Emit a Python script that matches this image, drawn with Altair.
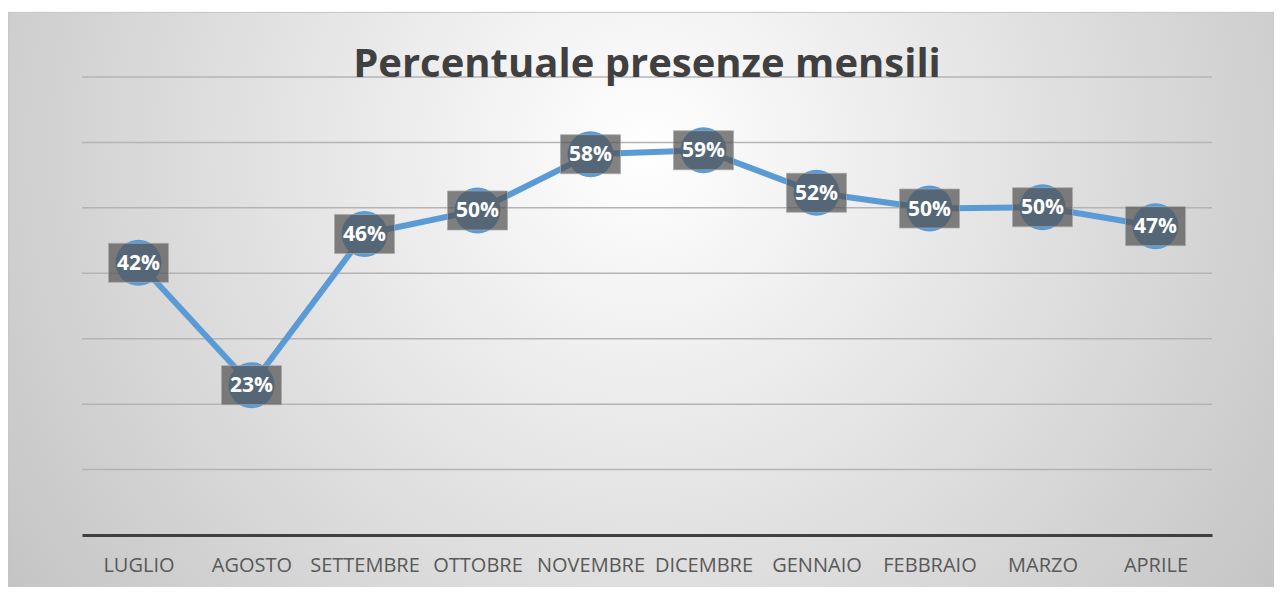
import altair as alt
import pandas as pd

months = ["LUGLIO", "AGOSTO", "SETTEMBRE", "OTTOBRE", "NOVEMBRE",
          "DICEMBRE", "GENNAIO", "FEBBRAIO", "MARZO", "APRILE"]
presence = [0.416, 0.229, 0.460, 0.496, 0.582, 0.588, 0.523, 0.499, 0.501, 0.472]
grid_values = [0.1, 0.2, 0.3, 0.4, 0.5, 0.6, 0.7]
title_text = "Percentuale presenze mensili"

df = pd.DataFrame({"mese": months, "presenza": presence})
grid_df = pd.DataFrame({"presenza": grid_values})

y_scale = alt.Scale(domain=[0, 0.7], nice=False, zero=True)

x_enc = alt.X(
    "mese:N", sort=months,
    scale=alt.Scale(type="point", padding=0.5),
    axis=alt.Axis(title=None, labelAngle=0, ticks=False, grid=False,
                  domainColor="#404040", domainWidth=3,
                  labelFont="Open Sans", labelFontSize=20, labelColor="#595959",
                  labelPadding=20, zindex=1),
)
y_enc = alt.Y("presenza:Q", scale=y_scale, axis=None)

gradient = {
    "gradient": "radial",
    "x1": 0.5, "y1": 0.108, "r1": 0,
    "x2": 0.5, "y2": 0.108, "r2": 0.61,
    "stops": [
        {"offset": 0, "color": "#ffffff"},
        {"offset": 1, "color": "#c4c4c4"},
    ],
}

bg = alt.Chart(pd.DataFrame({"panel": [title_text]})).mark_rect(
    fill=gradient, stroke="#c4c4c4", strokeWidth=1
).encode(
    x=alt.value(-74), x2=alt.value(1200),
    y=alt.value(-64.6), y2=alt.value(1209.4),
)

grid = alt.Chart(grid_df).mark_rule(color="#b4b4b4", strokeWidth=1.5).encode(
    y=alt.Y("presenza:Q", scale=y_scale, axis=None)
)

base = alt.Chart(df).encode(x=x_enc, y=y_enc)

line = base.mark_line(color="#5B9BD5", strokeWidth=6)
circles = base.mark_point(filled=True, size=2116, color="#5B9BD5", opacity=1)
boxes = base.mark_point(
    shape="M-1,-0.65L1,-0.65L1,0.65L-1,0.65Z", size=3600, filled=True,
    fill="#535353", fillOpacity=0.72, opacity=1,
    stroke="#a8a8a8", strokeWidth=1, strokeOpacity=0.7,
)
labels = base.mark_text(
    font="Open Sans", fontSize=21, fontWeight="bold", color="white",
    baseline="middle", dy=1,
).encode(text=alt.Text("presenza:Q", format=".0%"))

chart = alt.layer(bg, grid, line, circles, boxes, labels).properties(
    width=1130, height=458,
    padding={"left": 74, "top": 69, "right": 62, "bottom": 52},
    autosize="none",
    title=alt.Title(title_text, font="Open Sans", fontSize=40, fontWeight="bold",
                    color="#404040", anchor="middle", frame="group",
                    baseline="alphabetic", offset=-105),
).configure_view(stroke=None)

chart.save("out.html", embed_options={"renderer": "svg", "actions": False})
